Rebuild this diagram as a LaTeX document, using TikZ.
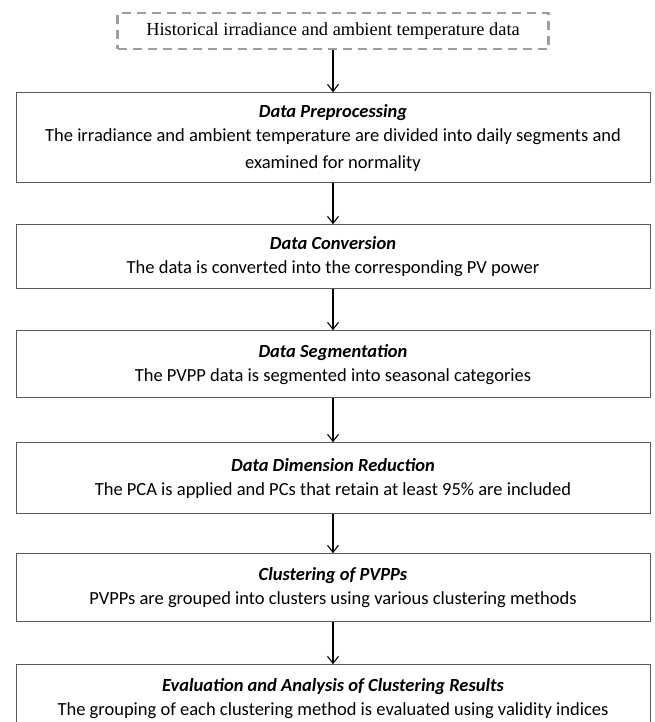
\documentclass[tikz,border=0pt]{standalone}
\usepackage{fontspec}
\setmainfont{Carlito}
\newfontfamily\srcfont{Liberation Serif}
\usetikzlibrary{arrows.meta,positioning}

\begin{document}
\begin{tikzpicture}[
  stage/.style={draw=black!65, line width=1pt, align=center, minimum width=634pt, inner sep=0pt, font=\fontsize{18.5}{27}\selectfont},
  source/.style={draw=black!38, line width=2.4pt, dash pattern=on 9pt off 6pt, minimum width=431pt, minimum height=36pt, font=\srcfont\fontsize{18.4}{20}\selectfont},
  arr/.style={-{Straight Barb[length=7pt,width=11pt]}, line width=1.1pt}
]
\useasboundingbox (0,0) rectangle (654pt,-722pt);

\node[source] (hist) at (333pt,-31pt) {Historical irradiance and ambient temperature data};
\node[stage, minimum height=90pt, below=42pt of hist] (prep) {\textbf{\textit{Data Preprocessing}}\\[-3pt]The irradiance and ambient temperature are divided into daily segments and\\examined for normality};
\node[stage, minimum height=64pt, below=41pt of prep] (conv) {\textbf{\textit{Data Conversion}}\\[-3pt]The data is converted into the corresponding PV power};
\node[stage, minimum height=67pt, below=41pt of conv] (segm) {\textbf{\textit{Data Segmentation}}\\[-3pt]The PVPP data is segmented into seasonal categories};
\node[stage, minimum height=71pt, below=44pt of segm] (dimred) {\textbf{\textit{Data Dimension Reduction}}\\[-3pt]The PCA is applied and PCs that retain at least 95\% are included};
\node[stage, minimum height=68pt, below=39pt of dimred] (clust) {\textbf{\textit{Clustering of PVPPs}}\\[-3pt]PVPPs are grouped into clusters using various clustering methods};
\node[stage, minimum height=68pt, below=42pt of clust] (eval) {\textbf{\textit{Evaluation and Analysis of Clustering Results}}\\[-3pt]The grouping of each clustering method is evaluated using validity indices};

\draw[arr] (hist) -- (prep);
\draw[arr] (prep) -- (conv);
\draw[arr] (conv) -- (segm);
\draw[arr] (segm) -- (dimred);
\draw[arr] (dimred) -- (clust);
\draw[arr] (clust) -- (eval);

\end{tikzpicture}
\end{document}
